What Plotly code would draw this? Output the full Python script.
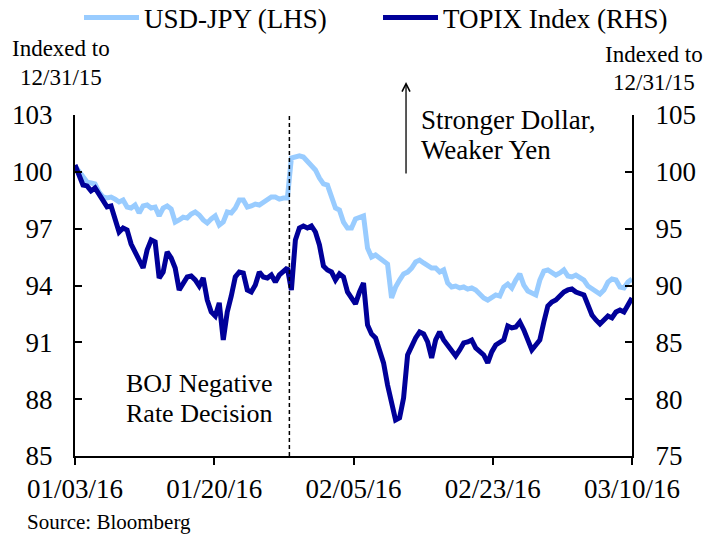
import plotly.graph_objects as go

# Tick labels on the date axis (evenly spaced trading-period markers)
date_labels = ["01/03/16", "01/20/16", "02/05/16", "02/23/16", "03/10/16"]

# USD-JPY indexed to 12/31/15 (left axis)
usdjpy = [
    100.31, 99.99, 99.67, 99.46, 99.41, 99.36, 98.93, 98.67, 98.62, 98.67,
    98.56, 98.41, 98.51, 98.14, 98.09, 98.25, 97.83, 98.20, 98.25, 98.09,
    98.14, 97.67, 98.09, 98.20, 98.04, 97.35, 97.46, 97.61, 97.56, 97.77,
    97.88, 97.72, 97.46, 97.30, 97.51, 97.67, 97.19, 97.35, 97.88, 97.83,
    98.09, 98.51, 98.51, 98.14, 98.20, 98.30, 98.25, 98.41, 98.51, 98.67,
    98.67, 98.56, 98.62, 98.62, 100.73, 100.78, 100.84, 100.78, 100.57, 100.36,
    100.10, 99.67, 99.36, 99.30, 98.78, 98.09, 97.98, 97.35, 97.03, 97.03,
    97.51, 97.61, 97.67, 95.98, 95.50, 95.61, 95.45, 95.24, 95.13, 93.34,
    93.92, 94.29, 94.61, 94.71, 94.92, 95.24, 95.34, 95.19, 95.03, 94.92,
    94.92, 94.71, 94.82, 94.13, 93.92, 93.97, 93.87, 93.92, 93.81, 93.87,
    93.76, 93.50, 93.34, 93.23, 93.34, 93.50, 93.44, 93.92, 94.08, 93.87,
    94.29, 94.61, 94.02, 93.71, 93.60, 93.50, 94.29, 94.76, 94.82, 94.66,
    94.55, 94.66, 94.82, 94.50, 94.45, 94.55, 94.39, 94.29, 93.97, 93.81,
    93.65, 93.55, 93.76, 94.18, 94.34, 94.29, 93.92, 93.87, 94.18, 94.34,
]

# TOPIX index indexed to 12/31/15 (right axis)
topix = [
    100.60, 99.72, 98.84, 98.76, 98.32, 98.58, 98.05, 97.61, 96.91, 97.00,
    95.77, 94.71, 95.06, 94.89, 93.65, 92.86, 92.07, 91.54, 93.13, 94.01,
    93.83, 90.66, 91.19, 92.95, 92.42, 91.54, 89.61, 90.14, 90.75, 90.84,
    90.49, 89.96, 90.66, 88.73, 87.67, 87.32, 88.47, 85.21, 87.67, 89.08,
    90.75, 91.19, 91.10, 89.61, 89.43, 90.05, 91.19, 90.75, 90.66, 90.93,
    90.31, 90.93, 91.19, 91.54, 89.61, 94.01, 95.06, 95.24, 95.06, 95.24,
    94.71, 93.57, 91.72, 91.37, 91.19, 90.49, 91.02, 90.75, 89.43, 88.91,
    88.38, 89.43, 90.22, 86.53, 85.74, 85.39, 84.16, 83.19, 81.25, 79.49,
    78.17, 78.35, 80.11, 83.89, 84.77, 85.39, 85.91, 85.74, 85.04, 83.63,
    85.21, 85.91, 85.21, 84.68, 84.16, 83.80, 84.33, 84.95, 85.04, 85.21,
    84.51, 84.16, 83.89, 83.19, 84.16, 84.77, 85.04, 85.21, 86.44, 86.27,
    86.35, 86.79, 86.09, 85.04, 84.33, 84.77, 85.21, 86.79, 88.20, 88.55,
    88.73, 89.08, 89.43, 89.61, 89.70, 89.43, 89.34, 89.17, 88.29, 87.41,
    86.97, 86.62, 86.97, 87.32, 87.15, 87.67, 87.85, 87.67, 88.29, 88.91,
]

boj_position = 53.5  # BOJ negative-rate decision (Jan 29, 2016)

n = len(usdjpy)
xs = list(range(n))
tick_positions = [(n - 1) * k / (len(date_labels) - 1) for k in range(len(date_labels))]

FONT = "Liberation Serif"
LIGHT = "#99CCFF"
DARK = "#000099"

fig = go.Figure()
fig.add_trace(go.Scatter(x=xs, y=usdjpy, mode="lines", name="USD-JPY (LHS)",
                         line=dict(color=LIGHT, width=5), yaxis="y", legend="legend"))
fig.add_trace(go.Scatter(x=xs, y=topix, mode="lines", name="TOPIX Index (RHS)",
                         line=dict(color=DARK, width=5), yaxis="y2", legend="legend2"))

fig.add_shape(type="line", xref="x", yref="paper", x0=boj_position, x1=boj_position,
              y0=0, y1=1, line=dict(color="black", width=1.5, dash="4px,3px"))

legend_common = dict(orientation="h", xref="paper", yref="paper",
                     xanchor="left", yanchor="middle", font=dict(size=27),
                     itemwidth=55, bgcolor="rgba(0,0,0,0)")

fig.update_layout(
    width=707, height=536,
    margin=dict(l=75, r=75, t=115, b=80, autoexpand=False),
    paper_bgcolor="white", plot_bgcolor="white",
    font=dict(family=FONT, size=27, color="black"),
    showlegend=True,
    legend=dict(x=0.0072, y=1.2845, **legend_common),
    legend2=dict(x=0.544, y=1.2845, **legend_common),
    xaxis=dict(range=[0, n - 1], tickvals=tick_positions, ticktext=date_labels,
               showgrid=False, zeroline=False, showline=True, linecolor="black",
               linewidth=2, ticks="outside", ticklen=7, tickwidth=1.5,
               tickcolor="black", ticklabelstandoff=1, automargin=False),
    yaxis=dict(range=[85, 103], dtick=3, tick0=85, showgrid=False, zeroline=False,
               showline=True, linecolor="black", linewidth=2, ticks="inside",
               ticklen=7, tickwidth=1.5, tickcolor="black", ticklabelstandoff=15,
               automargin=False),
    yaxis2=dict(range=[75, 105], dtick=5, tick0=75, overlaying="y", side="right",
                showgrid=False, zeroline=False, showline=True, linecolor="black",
                linewidth=2, ticks="inside", ticklen=7, tickwidth=1.5,
                tickcolor="black", ticklabelstandoff=16, automargin=False),
)


def note(text, x, y, size, xanchor="center"):
    return dict(text=text, xref="paper", yref="paper", x=x, y=y, xanchor=xanchor,
                yanchor="middle", showarrow=False, font=dict(size=size))


annotations = [
    note("Indexed to", -0.025, 1.196, 23),
    note("12/31/15", -0.025, 1.111, 23),
    note("Indexed to", 1.0395, 1.176, 23),
    note("12/31/15", 1.0395, 1.094, 23),
    note("Stronger Dollar,", 0.618, 0.985, 27, "left"),
    note("Weaker Yen", 0.618, 0.897, 27, "left"),
    note("BOJ Negative", 0.224, 0.214, 26),
    note("Rate Decision", 0.224, 0.126, 26),
    note("Source: Bloomberg", -0.0898, -0.195, 21, "left"),
    dict(text="", xref="paper", yref="paper", x=0.5943, y=1.097, showarrow=True,
         axref="pixel", ayref="pixel", ax=0, ay=93, arrowhead=5, arrowsize=1.2,
         arrowwidth=1.3, arrowcolor="black"),
]
fig.update_layout(annotations=annotations)

fig.write_html("out.html", config={"displayModeBar": False},
               post_script="document.body.style.margin='0';")
